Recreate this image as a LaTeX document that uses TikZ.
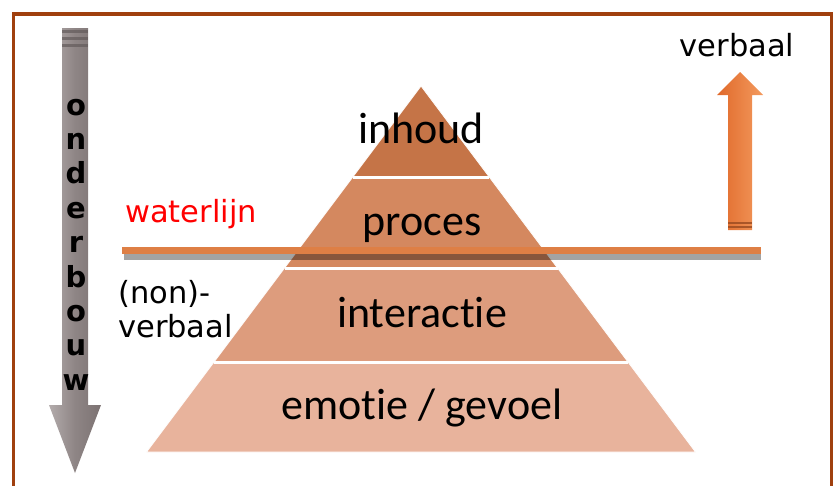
\documentclass[tikz,border=0pt]{standalone}
\usepackage{fontspec}
\setmainfont{DejaVu Sans}
\newfontfamily\calib[Ligatures=NoCommon]{Carlito}
\definecolor{framec}{HTML}{A0400E}
\definecolor{layA}{HTML}{C57447}
\definecolor{layB}{HTML}{D4885F}
\definecolor{layC}{HTML}{DD9C7D}
\definecolor{layD}{HTML}{E8B39C}
\definecolor{wline}{HTML}{DE7F45}
\definecolor{wshadow}{HTML}{A3A3A3}
\definecolor{gdark}{HTML}{7C7272}
\definecolor{gmid}{HTML}{8E8585}
\definecolor{glight}{HTML}{B3ACAC}
\definecolor{odark}{HTML}{E0692A}
\definecolor{omid}{HTML}{EE7C3C}
\definecolor{olight}{HTML}{F39A5E}
\definecolor{ostripe}{HTML}{9A4A20}
\definecolor{redtxt}{HTML}{FF0000}
\begin{document}
\begin{tikzpicture}[x=1pt,y=-1pt,
  sep/.style={white,line width=3pt},
  pyrtext/.style={anchor=base,inner sep=0pt,font=\calib\fontsize{44}{50}\selectfont},
  sidetext/.style={inner sep=0pt,font=\fontsize{30.5}{34}\selectfont},
  letter/.style={anchor=base,inner sep=0pt,font=\fontsize{29}{30}\selectfont\bfseries}]
\useasboundingbox (0,0) rectangle (837,485);
% frame
\draw[framec,line width=3.5pt] (13.5,500) -- (13.5,14) -- (831.5,14) -- (831.5,500);
% pyramid layers
\fill[layD] (214,362) -- (628,362) -- (695.5,452) -- (146.5,452) -- cycle;
\fill[layC] (284.5,268) -- (557.5,268) -- (628,362) -- (214,362) -- cycle;
\fill[layB] (352.75,177) -- (489.25,177) -- (557.5,268) -- (284.5,268) -- cycle;
\fill[layA] (421,86) -- (489.25,177) -- (352.75,177) -- cycle;
\draw[white,line width=0.8pt] (421,86) -- (695.5,452) -- (146.5,452) -- cycle;
\draw[sep] (352.75,177) -- (489.25,177);
\draw[sep] (284.5,268) -- (557.5,268);
\draw[sep] (214,362) -- (628,362);
% waterline
\begin{scope}[blend mode=multiply]
\fill[wshadow] (124,254) rectangle (761,259.5);
\end{scope}
\fill[wline] (122,247) rectangle (761,254);
% texts in pyramid
\node[pyrtext] (inhoud) at (421,143) {inhoud};
\node[pyrtext] (proces) at (422,235) {proces};
\node[pyrtext] (interactie) at (422,327) {interactie};
\node[pyrtext] (emotie) at (422,419) {emotie / gevoel};
% side texts
\node[sidetext,anchor=base] (verbaal) at (737,56) {verbaal};
\node[sidetext,anchor=base,text=redtxt] (waterlijn) at (191,222) {waterlijn};
\node[sidetext,anchor=base west] (non) at (118,303) {(non)-};
\node[sidetext,anchor=base west] (verbaal2) at (118,337) {verbaal};
% gray arrow down
\shade[left color=glight,right color=gdark,middle color=gmid]
  (62,28) -- (88,28) -- (88,405) -- (101,405) -- (75,473) -- (49,405) -- (62,405) -- cycle;
\foreach \yy in {30,37,44} \fill[gdark!80!black,opacity=0.7] (62,\yy) rectangle (88,\yy+3);
\foreach \ch [count=\i from 0] in {o,n,d,e,r,b,o,u,w}
  \node[letter] (L\i) at (76,115+34.4*\i) {\ch};
% orange arrow up
\shade[left color=odark,middle color=omid,right color=olight]
  (728,230) -- (728,95) -- (717,95) -- (740,72) -- (763,95) -- (752,95) -- (752,230) -- cycle;
\foreach \yy in {222,226} \fill[ostripe,opacity=0.8] (728,\yy) rectangle (752,\yy+1.8);
\end{tikzpicture}
\end{document}
